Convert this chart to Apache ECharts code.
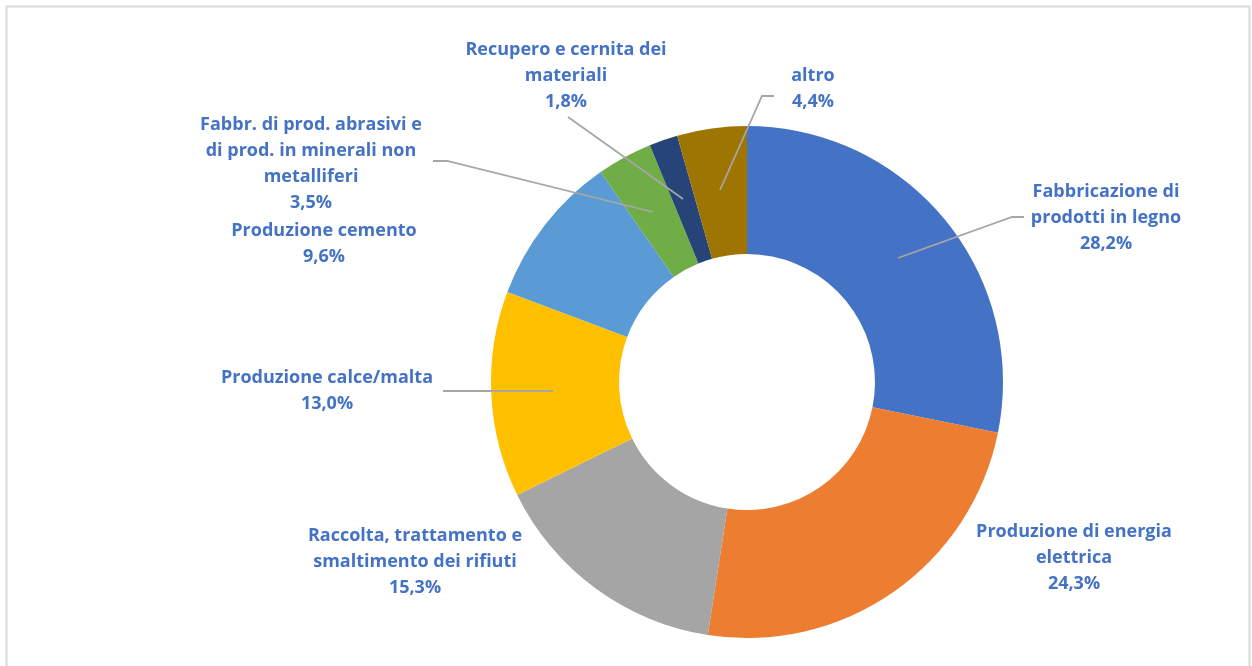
<!DOCTYPE html>
<html>
<head>
<meta charset="utf-8">
<script src="https://cdn.jsdelivr.net/npm/echarts@6/dist/echarts.min.js"></script>
<style>
html,body{margin:0;padding:0;background:#fff;}
#chart{width:1252px;height:666px;}
</style>
</head>
<body>
<div id="chart"></div>
<script>
// Data
var categories = [
  'Fabbricazione di\nprodotti in legno',
  'Produzione di energia\nelettrica',
  'Raccolta, trattamento e\nsmaltimento dei rifiuti',
  'Produzione calce/malta',
  'Produzione cemento',
  'Fabbr. di prod. abrasivi e\ndi prod. in minerali non\nmetalliferi',
  'Recupero e cernita dei\nmateriali',
  'altro'
];
var values = [28.2, 24.3, 15.3, 13.0, 9.6, 3.5, 1.8, 4.4];
var colors = ['#4472C4', '#ED7D31', '#A5A5A5', '#FFC000', '#5B9BD5', '#70AD47', '#264478', '#9E7500'];

// Label layout (positions only)
var labelPos = [
  [1106, 218], [1074, 558], [415, 562], [327, 391],
  [324, 244], [311, 164], [566, 76], [813, 89]
];
var linePts = [
  [[898, 258], [1012, 217], [1024, 217]],
  null,
  null,
  [[553, 391], [498, 391], [443, 391]],
  null,
  [[653, 212], [447, 161], [433, 161]],
  [[683, 199], [620, 154], [568, 117]],
  [[720, 190], [762, 96], [774, 96]]
];

var chart = echarts.init(document.getElementById('chart'));
function buildData(withLabels) {
  return categories.map(function (n, i) {
    return {
      name: n,
      value: values[i],
      itemStyle: { color: withLabels ? 'rgba(0,0,0,0)' : colors[i] },
      labelLine: { show: withLabels && !!linePts[i] }
    };
  });
}

var common = {
  type: 'pie',
  center: [747, 382],
  radius: [128, 256],
  startAngle: 90,
  clockwise: true,
  avoidLabelOverlap: false,
  emphasis: { disabled: true }
};

chart.setOption({
  animation: false,
  backgroundColor: '#ffffff',
  graphic: [{
    type: 'rect',
    shape: { x: 6.5, y: 6.5, width: 1243, height: 700 },
    style: { fill: 'none', stroke: '#d9d9d9', lineWidth: 2 },
    silent: true
  }],
  series: [
    Object.assign({}, common, {
      z: 2,
      data: buildData(false),
      label: { show: false },
      labelLine: { show: false }
    }),
    Object.assign({}, common, {
      z: 5,
      silent: true,
      data: buildData(true),
      label: {
        show: true,
        position: 'outside',
        fontFamily: 'Open Sans',
        fontWeight: 'bold',
        fontSize: 18,
        lineHeight: 26,
        color: '#4472C4',
        align: 'center',
        formatter: function (p) {
          return p.name + '\n' + p.value.toFixed(1).replace('.', ',') + '%';
        }
      },
      labelLine: {
        show: true,
        lineStyle: { color: '#A6A6A6', width: 1.8 }
      },
      labelLayout: function (p) {
        var i = p.dataIndex;
        var o = {
          x: labelPos[i][0],
          y: labelPos[i][1],
          align: 'center',
          verticalAlign: 'middle'
        };
        if (linePts[i]) o.labelLinePoints = linePts[i];
        return o;
      }
    })
  ]
});
</script>
</body>
</html>
